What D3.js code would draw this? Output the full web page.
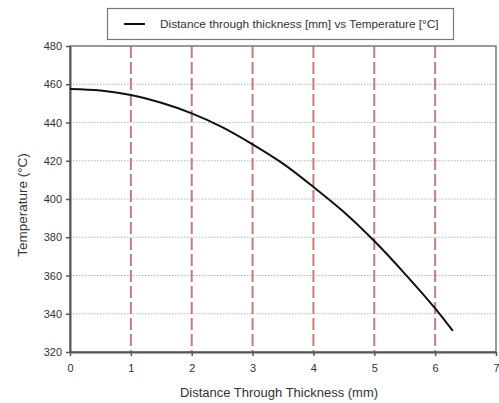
<!DOCTYPE html>
<html>
<head>
<meta charset="utf-8">
<script src="https://cdn.jsdelivr.net/npm/d3@7"></script>
<style>
  body { margin: 0; background: #fff; }
  svg { display: block; font-family: "Liberation Sans", Arial, sans-serif; }
</style>
</head>
<body>
<div id="root"></div>
<script>
// distance through thickness (mm) vs temperature (°C)
var distance = [0, 0.5, 1, 1.5, 2, 2.5, 3, 3.5, 4, 4.5, 5, 5.5, 6, 6.29];
var temperature = [457.5, 456.7, 454.4, 450.3, 444.8, 437.6, 428.6, 418.5, 406.3, 393.2, 378, 361, 342.8, 331];
var xTicks = [0, 1, 2, 3, 4, 5, 6, 7];
var yTicks = [320, 340, 360, 380, 400, 420, 440, 460, 480];
var legendLabel = "Distance through thickness [mm] vs Temperature [°C]";

var W = 499, H = 403;
var margin = {top: 46, right: 3, bottom: 51, left: 70};

var svg = d3.select("#root").append("svg")
    .attr("width", W)
    .attr("height", H);

var x = d3.scaleLinear().domain([0, 7]).range([margin.left, W - margin.right]);
var y = d3.scaleLinear().domain([320, 480]).range([H - margin.bottom, margin.top]);

// horizontal dotted grid
svg.append("g").selectAll("line")
    .data(yTicks.filter(function(d) { return d > 320 && d < 480; }))
    .enter().append("line")
    .attr("x1", x(0)).attr("x2", x(7))
    .attr("y1", function(d) { return y(d); })
    .attr("y2", function(d) { return y(d); })
    .attr("stroke", "#b0b8b8")
    .attr("stroke-width", 1)
    .attr("stroke-dasharray", "1.5,1.5");

// vertical dashed red grid
svg.append("g").selectAll("line")
    .data(xTicks.filter(function(d) { return d > 0 && d < 7; }))
    .enter().append("line")
    .attr("x1", function(d) { return x(d); })
    .attr("x2", function(d) { return x(d); })
    .attr("y1", y(480)).attr("y2", y(320))
    .attr("stroke", "#c97a7a")
    .attr("stroke-width", 2)
    .attr("stroke-dasharray", "12,4");

// plot frame (top / right)
svg.append("rect")
    .attr("x", x(0)).attr("y", y(480))
    .attr("width", x(7) - x(0)).attr("height", y(320) - y(480))
    .attr("fill", "none")
    .attr("stroke", "#777")
    .attr("stroke-width", 1.5);

// axes
var xAxis = svg.append("g")
    .attr("transform", "translate(0," + y(320) + ")")
    .call(d3.axisBottom(x).tickValues(xTicks).tickFormat(d3.format("d")).tickSize(4).tickSizeOuter(0));
var yAxis = svg.append("g")
    .attr("transform", "translate(" + x(0) + ",0)")
    .call(d3.axisLeft(y).tickValues(yTicks).tickFormat(d3.format("d")).tickSize(4).tickSizeOuter(0));

[xAxis, yAxis].forEach(function(a) {
    a.select(".domain").attr("stroke", "#555").attr("stroke-width", 2);
    a.selectAll(".tick line").attr("stroke", "#555").attr("stroke-width", 1.5);
    a.selectAll("text").attr("fill", "#333").style("font-size", "11px");
});
xAxis.selectAll("text").attr("dy", "1.2em");
yAxis.selectAll("text").attr("x", -8);

// curve
var line = d3.line()
    .x(function(d, i) { return x(distance[i]); })
    .y(function(d, i) { return y(temperature[i]); })
    .curve(d3.curveCatmullRom);

svg.append("path")
    .datum(distance)
    .attr("d", line)
    .attr("fill", "none")
    .attr("stroke", "#111")
    .attr("stroke-width", 2);

// axis titles
svg.append("text")
    .attr("x", (x(0) + x(7)) / 2 - 4)
    .attr("y", 397)
    .attr("text-anchor", "middle")
    .attr("fill", "#333")
    .style("font-size", "13px")
    .text("Distance Through Thickness (mm)");

svg.append("text")
    .attr("transform", "translate(27," + ((y(320) + y(480)) / 2 + 6) + ") rotate(-90)")
    .attr("text-anchor", "middle")
    .attr("fill", "#333")
    .style("font-size", "13.5px")
    .text("Temperature (°C)");

// legend
var legend = svg.append("g");
legend.append("rect")
    .attr("x", 107.5).attr("y", 8.5)
    .attr("width", 346).attr("height", 31)
    .attr("fill", "#fff")
    .attr("stroke", "#777")
    .attr("stroke-width", 1.2);
legend.append("line")
    .attr("x1", 124).attr("x2", 145)
    .attr("y1", 24).attr("y2", 24)
    .attr("stroke", "#111")
    .attr("stroke-width", 2);
legend.append("text")
    .attr("x", 160).attr("y", 28)
    .attr("fill", "#333")
    .style("font-size", "11.8px")
    .text(legendLabel);
</script>
</body>
</html>
